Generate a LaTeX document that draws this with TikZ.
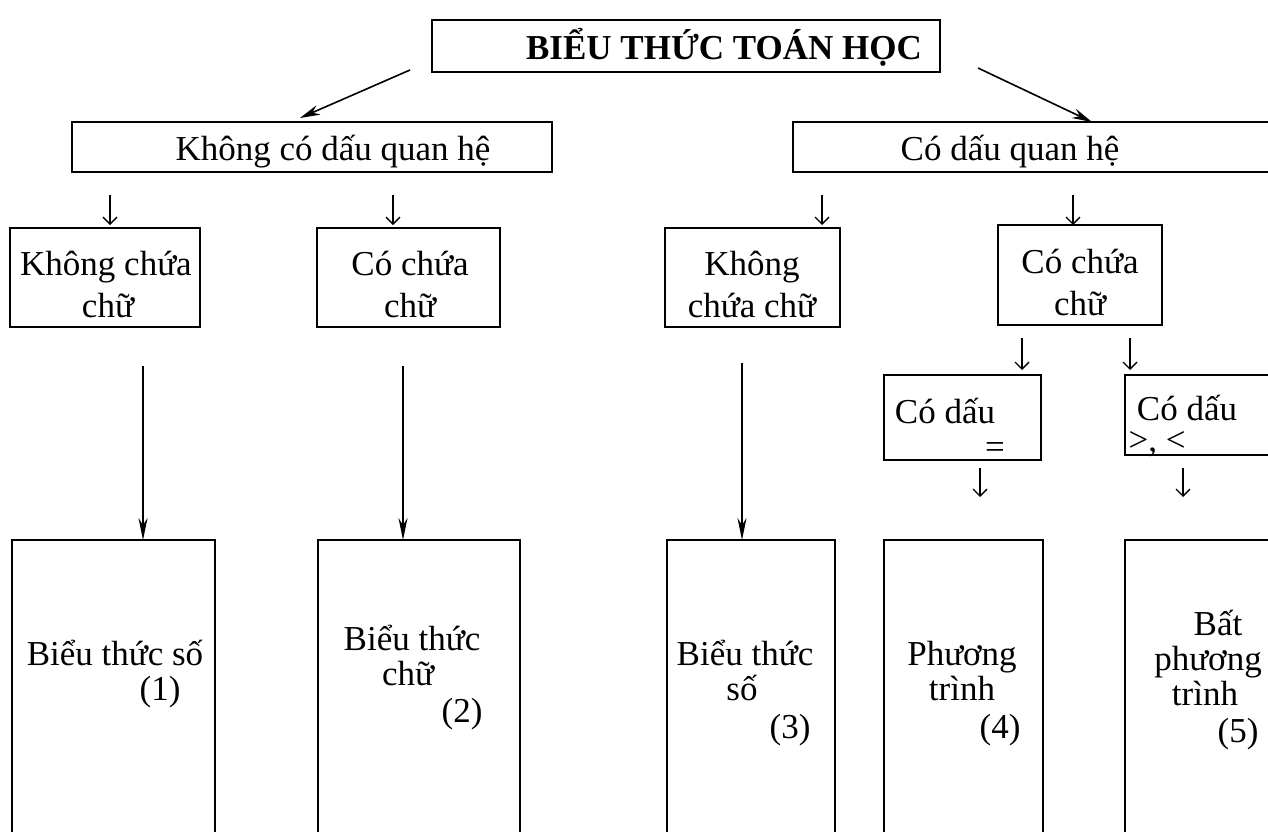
\documentclass[tikz,border=0pt]{standalone}
\usepackage{fontspec}
\setmainfont{Liberation Serif}
\usetikzlibrary{arrows.meta}
\begin{document}
\begin{tikzpicture}[x=1pt,y=-1pt,
  box/.style={draw, line width=1.6pt, inner sep=0pt, outer sep=0pt},
  txt/.style={font=\fontsize{35}{40}\selectfont, inner sep=0pt, anchor=mid},
  ttl/.style={font=\fontsize{35}{40}\selectfont\bfseries, inner sep=0pt, anchor=mid},
  sarr/.style={line width=1.3pt, -{Straight Barb[length=7pt,width=14pt]}},
  larr/.style={line width=1.6pt, -{Stealth[length=22pt,width=9pt]}},
  darr/.style={line width=1.6pt, -{Stealth[length=20pt,width=10pt]}}]
\useasboundingbox (0,0) rectangle (1268,831);
\fill[white] (0,0) rectangle (1268,831);
\clip (0,0) rectangle (1268,831);
% boxes
\node[box, minimum width=508pt, minimum height=52pt] (top) at (686,46) {};
\node[box, minimum width=480pt, minimum height=50pt] (kq) at (312,147) {};
\node[box, minimum width=507pt, minimum height=50pt] (cq) at (1046.5,147) {};
\node[box, minimum width=190pt, minimum height=99pt] (b1) at (105,277.5) {};
\node[box, minimum width=183pt, minimum height=99pt] (b2) at (408.5,277.5) {};
\node[box, minimum width=175pt, minimum height=99pt] (b3) at (752.5,277.5) {};
\node[box, minimum width=164pt, minimum height=100pt] (b4) at (1080,275) {};
\node[box, minimum width=157pt, minimum height=85pt] (c1) at (962.5,417.5) {};
\node[box, minimum width=175pt, minimum height=80pt] (c2) at (1212.5,415) {};
\node[box, minimum width=203pt, minimum height=360pt] (d1) at (113.5,720) {};
\node[box, minimum width=202pt, minimum height=360pt] (d2) at (419,720) {};
\node[box, minimum width=168pt, minimum height=360pt] (d3) at (751,720) {};
\node[box, minimum width=159pt, minimum height=360pt] (d4) at (963.5,720) {};
\node[box, minimum width=175pt, minimum height=360pt] (d5) at (1212.5,720) {};
% texts
\node[ttl] (ttop) at (724,57) {BIỂU THỨC TOÁN HỌC};
\node[txt] (tkq) at (333,158) {Không có dấu quan hệ};
\node[txt] (tcq) at (1010,158) {Có dấu quan hệ};
\node[txt] (tb1a) at (106,273) {Không chứa};
\node[txt] (tb1b) at (108,315) {chữ};
\node[txt] (tb2a) at (410,273) {Có chứa};
\node[txt] (tb2b) at (410,315) {chữ};
\node[txt] (tb3a) at (752,273) {Không};
\node[txt] (tb3b) at (752,315) {chứa chữ};
\node[txt] (tb4a) at (1080,271) {Có chứa};
\node[txt] (tb4b) at (1080,313) {chữ};
\node[txt] (tc1a) at (945,421) {Có dấu};
\node[txt] (tc1b) at (995,456) {=};
\node[txt] (tc2a) at (1187,418) {Có dấu};
\node[txt] (tc2b) at (1157,449) {>, <};
\node[txt] (td1a) at (115,663) {Biểu thức số};
\node[txt] (td1b) at (160,698) {(1)};
\node[txt] (td2a) at (412,648) {Biểu thức};
\node[txt] (td2b) at (408,683) {chữ};
\node[txt] (td2c) at (462,720) {(2)};
\node[txt] (td3a) at (745,663) {Biểu thức};
\node[txt] (td3b) at (742,698) {số};
\node[txt] (td3c) at (790,736) {(3)};
\node[txt] (td4a) at (962,663) {Phương};
\node[txt] (td4b) at (962,698) {trình};
\node[txt] (td4c) at (1000,736) {(4)};
\node[txt] (td5a) at (1218,633) {Bất};
\node[txt] (td5b) at (1208,668) {phương};
\node[txt] (td5c) at (1205,703) {trình};
\node[txt] (td5d) at (1238,740) {(5)};
% diagonal arrows
\coordinate (dl1) at (410,70);
\coordinate (dl2) at (300,118);
\coordinate (dr1) at (978,68);
\coordinate (dr2) at (1092,122);
\draw[darr] (dl1) -- (dl2);
\draw[darr] (dr1) -- (dr2);
% small arrows
\coordinate (s1) at (110,195);
\coordinate (s2) at (393,195);
\coordinate (s3) at (822,195);
\coordinate (s4) at (1073,195);
\draw[sarr] (s1) -- ++(0,30);
\draw[sarr] (s2) -- ++(0,30);
\draw[sarr] (s3) -- ++(0,30);
\draw[sarr] (s4) -- ++(0,30);
\coordinate (s5) at (1022,338);
\coordinate (s6) at (1130,338);
\draw[sarr] (s5) -- ++(0,32);
\draw[sarr] (s6) -- ++(0,32);
\coordinate (s7) at (980,468);
\coordinate (s8) at (1183,468);
\draw[sarr] (s7) -- ++(0,29);
\draw[sarr] (s8) -- ++(0,29);
% long arrows
\coordinate (l1) at (143,366);
\coordinate (l2) at (403,366);
\coordinate (l3) at (742,363);
\draw[larr] (l1) -- (l1 |- d1.north);
\draw[larr] (l2) -- (l2 |- d2.north);
\draw[larr] (l3) -- (l3 |- d3.north);
\end{tikzpicture}
\end{document}
